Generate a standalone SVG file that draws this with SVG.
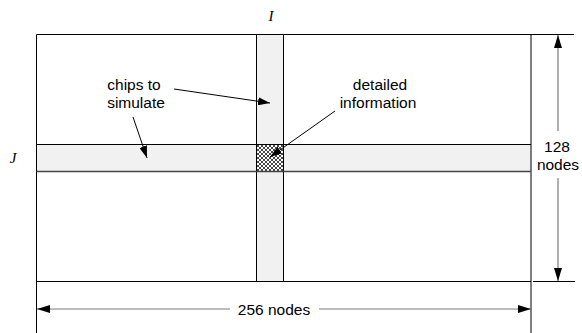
<svg xmlns="http://www.w3.org/2000/svg" width="582" height="333" viewBox="0 0 582 333">
<style>
.ln{stroke:#000;stroke-width:1;fill:none}
.dim{stroke:#7a7a7a;stroke-width:1.2;fill:none}
.band{fill:#f1f1f1;stroke:none}
.lbl{font-family:"Liberation Sans",Arial,sans-serif;font-size:15.5px;fill:#000;text-anchor:middle}
.var{font-family:"Liberation Serif","Times New Roman",serif;font-style:italic;font-size:15px;fill:#000;text-anchor:middle}
.ptr{stroke:#000;stroke-width:1;fill:none}
</style>
<defs>
<marker id="ah" viewBox="0 0 12 8" refX="12" refY="4" markerWidth="12" markerHeight="8" markerUnits="userSpaceOnUse" orient="auto">
<path d="M0,0 L12,4 L0,8 Z" fill="#000"/>
</marker>
<marker id="dh" viewBox="0 0 13 8" refX="13" refY="4" markerWidth="13" markerHeight="8" markerUnits="userSpaceOnUse" orient="auto">
<path d="M0,0 L13,4 L0,8 Z" fill="#000"/>
</marker>
<pattern id="hatch" width="4" height="4" patternUnits="userSpaceOnUse">
<rect width="4" height="4" fill="#fff"/>
<path d="M0,0 L4,4 M4,0 L0,4" stroke="#333" stroke-width="0.9"/>
</pattern>
</defs>

<g id="grid">
<rect class="band" x="256.5" y="34.5" width="27" height="247"/>
<rect class="band" x="36.5" y="144.5" width="494.5" height="27"/>
<rect x="256.5" y="144.5" width="27" height="27" fill="url(#hatch)"/>
<line class="ln" x1="36.5" y1="34.5" x2="574" y2="34.5"/>
<line class="ln" x1="36.5" y1="281.5" x2="531" y2="281.5"/>
<line class="ln" x1="533" y1="281.5" x2="575" y2="281.5"/>
<line class="ln" x1="36.5" y1="34.5" x2="36.5" y2="333"/>
<line class="ln" x1="531" y1="34.5" x2="531" y2="333"/>
<line class="ln" x1="256.5" y1="34.5" x2="256.5" y2="281.5"/>
<line class="ln" x1="283.5" y1="34.5" x2="283.5" y2="281.5"/>
<line class="ln" x1="36.5" y1="144.5" x2="531" y2="144.5"/>
<line x1="36.5" y1="171.5" x2="531" y2="171.5" stroke="#444" stroke-width="1.3"/>
</g>

<g id="label-I"><text class="var" x="271" y="21">I</text></g>
<g id="label-J"><text class="var" x="13" y="163">J</text></g>

<g id="chips-label">
<text class="lbl" x="134" y="90">chips to</text>
<text class="lbl" x="136" y="108">simulate</text>
</g>
<g id="detail-label">
<text class="lbl" x="380" y="90">detailed</text>
<text class="lbl" x="378" y="108">information</text>
</g>
<g id="dim-128">
<text class="lbl" x="557" y="152">128</text>
<text class="lbl" x="558" y="170">nodes</text>
</g>
<g id="dim-256">
<text class="lbl" x="274" y="315">256 nodes</text>
</g>

<g id="connectors">
<line class="ptr" x1="174" y1="89" x2="270" y2="103" marker-end="url(#ah)"/>
<line class="ptr" x1="133" y1="117" x2="147" y2="158" marker-end="url(#ah)"/>
<line class="ptr" x1="335" y1="111" x2="270" y2="157" marker-end="url(#ah)"/>
<line class="dim" x1="558" y1="131" x2="558" y2="35" marker-end="url(#dh)"/>
<line class="dim" x1="558" y1="178" x2="558" y2="281" marker-end="url(#dh)"/>
<line class="dim" x1="230" y1="309" x2="37" y2="309" marker-end="url(#dh)"/>
<line class="dim" x1="319" y1="309" x2="531" y2="309" marker-end="url(#dh)"/>
</g>
</svg>
